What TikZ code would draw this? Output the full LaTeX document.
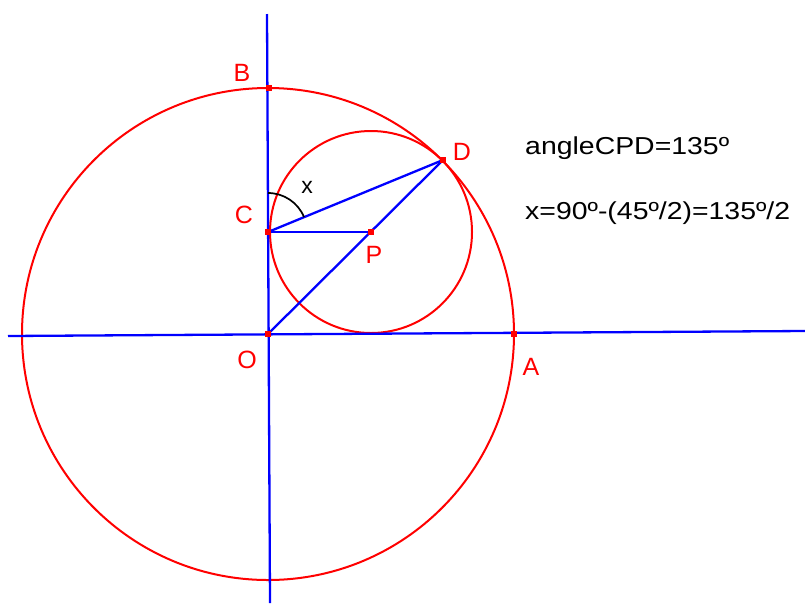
\documentclass[tikz,border=0pt]{standalone}
\usepackage{fontspec}
\setmainfont{Liberation Sans}
\begin{document}
\begin{tikzpicture}[x=1pt,y=-1pt,
  redline/.style={draw=red,line width=2pt},
  blueline/.style={draw=blue,line width=2.3pt},
  ptmark/.style={rectangle,fill=red,minimum size=6pt,inner sep=0pt},
  lbl/.style={text=red,font=\fontsize{25}{29}\selectfont,inner sep=0pt},
  note/.style={text=black,font=\fontsize{24.5}{28}\selectfont,inner sep=0pt,anchor=west,xscale=1.16}]
\useasboundingbox (0,0) rectangle (805,603);
% points
\coordinate (O) at (268,334);
\coordinate (A) at (514,334);
\coordinate (B) at (269,88);
\coordinate (C) at (268,232);
\coordinate (P) at (371,232);
\coordinate (D) at (443,160);
\coordinate (Vt) at (267,14);
\coordinate (Vb) at (270,603);
\coordinate (Hl) at (8,336);
\coordinate (Hr) at (805,331);
% circles
\draw[redline] (O) circle[radius=246];
\draw[redline] (P) circle[radius=101];
% axes
\draw[blueline] (Vt) -- (Vb);
\draw[blueline] (Hl) -- (Hr);
% segments
\draw[blueline] (C) -- (P);
\draw[blueline] (C) -- (D);
\draw[blueline] (O) -- (D);
% angle arc
\draw[black,line width=1.7pt] (C) ++(0,-39) arc[start angle=-90,end angle=-22.4,radius=39];
% markers
\foreach \p in {O,A,B,C,P,D} \node[ptmark] at (\p) {};
% labels
\node[lbl] (lB) at (242,73) {B};
\node[lbl] (lC) at (244,215) {C};
\node[lbl] (lD) at (462,152) {D};
\node[lbl] (lP) at (374,255) {P};
\node[lbl] (lO) at (247,360) {O};
\node[lbl] (lA) at (531,367) {A};
\node[text=black,font=\fontsize{23}{27}\selectfont,inner sep=0pt] (lx) at (307,187) {x};
\node[note] (t1) at (525,148) {angleCPD=135º};
\node[note] (t2) at (525,213) {x=90º-(45º/2)=135º/2};
\end{tikzpicture}
\end{document}
